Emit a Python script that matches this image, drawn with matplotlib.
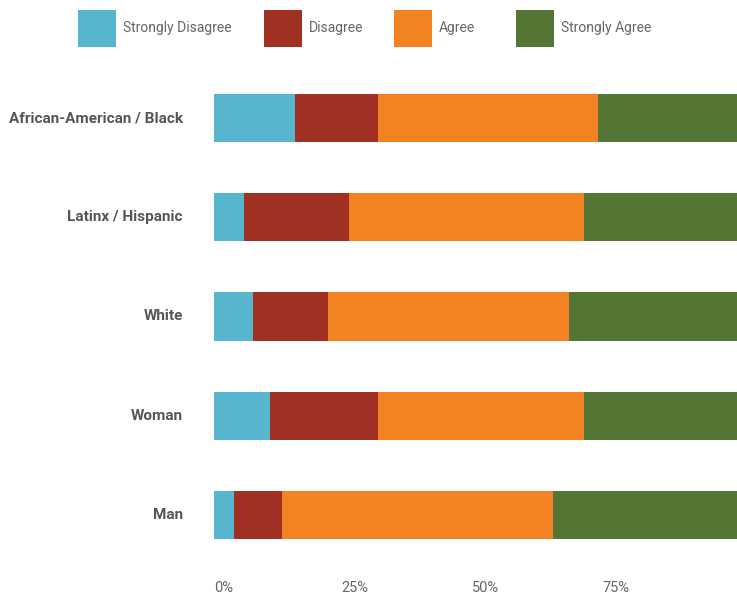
import matplotlib
matplotlib.use("Agg")
import matplotlib.pyplot as plt
import matplotlib.transforms as mtransforms
from matplotlib.patches import Patch

plt.rcParams['font.family'] = ['Roboto', 'DejaVu Sans']

# data (percent of respondents)
groups = ["African-American / Black", "Latinx / Hispanic", "White", "Woman", "Man"]
responses = ["Strongly Disagree", "Disagree", "Agree", "Strongly Agree"]
strongly_disagree = [15.5, 5.7, 7.5, 10.7, 3.8]
disagree = [15.9, 20.1, 14.3, 20.7, 9.2]
agree = [42.1, 44.9, 46.1, 39.4, 51.8]
strongly_agree = [26.5, 29.3, 32.1, 29.2, 35.2]
colors = ["#57b6ce", "#a03022", "#f38222", "#547534"]
xtick_vals = [0, 25, 50, 75]
xtick_labels = ["0%", "25%", "50%", "75%"]

W, H = 737, 596
fig = plt.figure(figsize=(W / 100, H / 100), dpi=100)
# axes: x 214..737 px, y centred on bars (top bar 118 px, bottom 515 px)
top_px, bot_px = 68.4, 564.6
ax = fig.add_axes([214 / W, 1 - bot_px / H, 1 - 214 / W, (bot_px - top_px) / H])

series = [strongly_disagree, disagree, agree, strongly_agree]
ypos = list(range(len(groups)))
left = [0.0] * len(groups)
for vals, col, name in zip(series, colors, responses):
    ax.barh(ypos, vals, left=left, height=0.484, color=col, label=name, linewidth=0)
    left = [l + v for l, v in zip(left, vals)]

ax.set_xlim(0, 100)
ax.set_ylim(len(groups) - 0.5, -0.5)
ax.set_yticks(ypos)
ax.set_yticklabels(groups, fontsize=11, fontweight="bold", color="#555555")
ax.set_xticks(xtick_vals)
ax.set_xticklabels(xtick_labels, fontsize=10.5, color="#666666")
ax.tick_params(axis="both", length=0)
ax.tick_params(axis="y", pad=22.5)
ax.tick_params(axis="x", pad=12)
for lab in ax.get_xticklabels():
    lab.set_transform(lab.get_transform() + mtransforms.ScaledTranslation(10 / 100, 0, fig.dpi_scale_trans))
for lab in ax.get_yticklabels():
    lab.set_transform(lab.get_transform() + mtransforms.ScaledTranslation(0, 1.5 / 100, fig.dpi_scale_trans))
for s in ax.spines.values():
    s.set_visible(False)

# legend items, one per response, spaced as in the original layout
legend_x = [78, 264, 394, 516]
for c, n, lx in zip(colors, responses, legend_x):
    h = Patch(facecolor=c, edgecolor="none", label=n)
    fig.legend(handles=[h], loc="upper left", bbox_to_anchor=(lx / W, 1 - 10 / H),
               frameon=False, fontsize=10, handlelength=2.73, handleheight=3.67,
               handletextpad=0.5, borderpad=0, borderaxespad=0,
               labelcolor="#666666")

fig.savefig("out.png", dpi=100)
